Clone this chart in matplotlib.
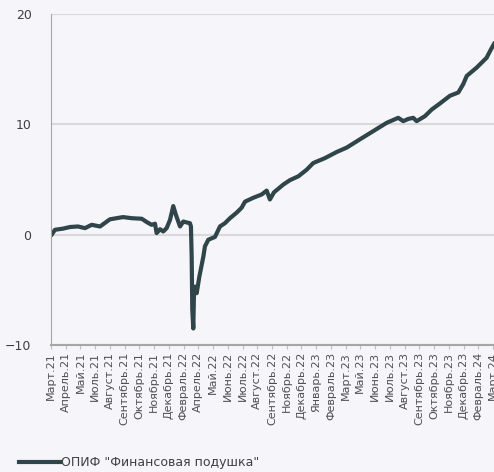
import matplotlib.pyplot as plt

# -------------
# Data (x in tick periods, 0 = Март.21)
# -------------
tick_labels = ["Март.21", "Апрель.21", "Май.21", "Июль.21", "Август.21", "Сентябрь.21",
               "Октябрь.21", "Ноябрь.21", "Декабрь.21", "Февраль.22", "Апрель.22", "Май.22",
               "Июнь.22", "Июль.22", "Август.22", "Сентябрь.22", "Ноябрь.22", "Декабрь.22",
               "Январь.23", "Февраль.23", "Март.23", "Май.23", "Июнь.23", "Июль.23",
               "Август.23", "Сентябрь.23", "Октябрь.23", "Ноябрь.23", "Декабрь.23",
               "Февраль.24", "Март.24"]

t = [0.07, 0.27, 0.8, 1.29, 1.83, 2.31, 2.76, 3.33, 4.0, 4.89, 5.48, 6.16, 6.5, 6.83,
     7.06, 7.17, 7.4, 7.62, 7.85, 8.08, 8.3, 8.48, 8.76, 8.98, 9.25, 9.43, 9.5, 9.55,
     9.59, 9.66, 9.71, 9.77, 9.89, 10.07, 10.16, 10.34, 10.45, 10.68, 11.13, 11.47,
     11.81, 12.15, 12.6, 12.94, 13.17, 13.73, 14.3, 14.64, 14.86, 15.14, 15.77, 16.22,
     16.79, 17.36, 17.8, 18.6, 19.39, 20.07, 20.97, 21.88, 22.79, 23.57, 23.91, 24.25,
     24.59, 24.82, 25.38, 25.84, 26.4, 27.08, 27.65, 27.98, 28.22, 28.89, 29.57, 29.8,
     30.07]
fund = [0.05, 0.45, 0.55, 0.7, 0.75, 0.6, 0.9, 0.75, 1.4, 1.6, 1.5, 1.45, 1.15, 0.9,
        1.0, 0.15, 0.5, 0.3, 0.6, 1.35, 2.6, 1.8, 0.75, 1.2, 1.1, 1.05, 0.75, -2.0,
        -6.8, -8.5, -5.0, -4.7, -5.3, -3.8, -3.2, -2.0, -1.05, -0.45, -0.2, 0.75,
        1.05, 1.5, 2.0, 2.45, 3.0, 3.35, 3.65, 4.0, 3.2, 3.85, 4.55, 4.95,
        5.3, 5.9, 6.5, 6.95, 7.5, 7.9, 8.65, 9.4, 10.15, 10.6, 10.3, 10.5,
        10.6, 10.3, 10.75, 11.35, 11.9, 12.6, 12.9, 13.65, 14.4, 15.15, 16.05, 16.65,
        17.3]

# -------------
# Drawing plot
# -------------
bg = "#f5f5fa"
fig = plt.figure(figsize=(4.94, 4.72), dpi=100, facecolor=bg)
ax = fig.add_axes([0.1032, 0.269, 0.8968, 0.701], facecolor=bg)

ax.plot(t, fund, color="#2f4549", linewidth=3.0, solid_joinstyle="round",
        label='ОПИФ "Финансовая подушка"')

ax.set_xlim(0, 30.07)
ax.set_ylim(-10, 20)
ax.set_yticks([-10, 0, 10, 20])
ax.set_xticks(range(len(tick_labels)))
ax.set_xticklabels(tick_labels, rotation=90, fontsize=8, color="#505050")
ax.tick_params(axis="y", length=0, labelsize=9, labelcolor="#404040", pad=14)
ax.tick_params(axis="x", length=3, color="#bfbfbf", pad=2)

ax.grid(axis="y", color="#d9d9d9", linewidth=1.5)
ax.set_axisbelow(True)
for s in ["top", "right"]:
    ax.spines[s].set_visible(False)
ax.spines["left"].set_color("#a6a6a6")
ax.spines["bottom"].set_color("#a6a6a6")
ax.spines["bottom"].set_linewidth(1.5)

fig.legend(loc="lower left", bbox_to_anchor=(0.015, -0.018), frameon=False,
           fontsize=9, handlelength=3.3, handletextpad=0.1, labelcolor="#404040")

fig.savefig("out.png", dpi=100, facecolor=bg)
